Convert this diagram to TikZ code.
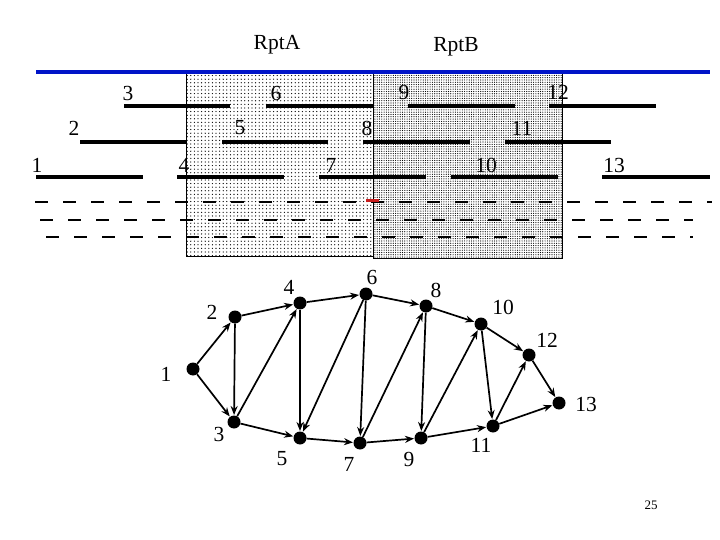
\documentclass[tikz,border=0pt]{standalone}
\usepackage{fontspec}
\setmainfont{Liberation Serif}
\usetikzlibrary{arrows.meta,patterns.meta}
\definecolor{barblue}{RGB}{0,20,200}
\definecolor{markred}{RGB}{200,30,30}
\tikzset{
  lbl/.style={inner sep=0pt,font=\fontsize{21.5}{21.5}\selectfont},
  bar/.style={line width=3.2pt},
  dline/.style={line width=1.2pt,dash pattern=on 13pt off 15pt},
  vtx/.style={circle,fill=black,inner sep=0pt,minimum size=13pt},
  arr/.style={-{Stealth[length=9pt,width=7pt]},line width=1.7pt,shorten >=0.3pt},
}
\begin{document}
\begin{tikzpicture}[x=1pt,y=-1pt]
\useasboundingbox (0,0) rectangle (720,540);
% boxes
\path[pattern={Dots[distance=3.6pt,radius=0.65pt]}] (186,72) rectangle (373,256);
\draw[line width=0.9pt] (186,72) rectangle (373,256);
\fill[white] (373,72) rectangle (562,258);
\path[pattern={Dots[distance=2.3pt,radius=0.6pt]}] (373,72) rectangle (562,258);
\draw[line width=0.9pt] (373,72) rectangle (562,258);
% blue line
\draw[barblue,line width=4pt] (36,72) -- (710,72);
\node[lbl] (ra) at (277,45) {RptA};
\node[lbl] (rb) at (456,47) {RptB};
% bars row 1
\draw[bar] (124,106) -- (230,106);
\draw[bar] (266,106) -- (373,106);
\draw[bar] (408,106) -- (515,106);
\draw[bar] (549,106) -- (656,106);
% row 2
\draw[bar] (80,142) -- (186,142);
\draw[bar] (222,142) -- (328,142);
\draw[bar] (363,142) -- (470,142);
\draw[bar] (505,142) -- (611,142);
% row 3
\draw[bar] (36,177) -- (143,177);
\draw[bar] (177,177) -- (284,177);
\draw[bar] (319,177) -- (426,177);
\draw[bar] (451,177) -- (558,177);
\draw[bar] (602,177) -- (710,177);
% bar labels
\node[lbl] (t3) at (128,93) {3};
\node[lbl] (t6) at (276,93) {6};
\node[lbl] (t9) at (404,92) {9};
\node[lbl] (t12) at (558,92) {12};
\node[lbl] (t2) at (74,128) {2};
\node[lbl] (t5) at (240,128) {5};
\node[lbl] (t8) at (367,128) {8};
\node[lbl] (t11) at (522,128) {11};
\node[lbl] (t1) at (37,165) {1};
\node[lbl] (t4) at (184,165) {4};
\node[lbl] (t7) at (331,165) {7};
\node[lbl] (t10) at (486,165) {10};
\node[lbl] (t13) at (614,165) {13};
% dashed lines
\draw[dline] (35,202) -- (712,202);
\draw[dline] (40,220) -- (693,220);
\draw[dline] (46,237) -- (693,237);
\draw[markred,line width=3pt] (366,201) -- (379,201);
% graph
\node[vtx] (n1) at (193,369) {};
\node[vtx] (n2) at (235,317) {};
\node[vtx] (n3) at (234,422) {};
\node[vtx] (n4) at (300,303) {};
\node[vtx] (n5) at (300,438) {};
\node[vtx] (n6) at (366,294) {};
\node[vtx] (n7) at (360,443) {};
\node[vtx] (n8) at (426,306) {};
\node[vtx] (n9) at (421,438) {};
\node[vtx] (n10) at (481,324) {};
\node[vtx] (n11) at (493,426) {};
\node[vtx] (n12) at (529,355) {};
\node[vtx] (n13) at (559,403) {};
\foreach \a/\b in {1/2,1/3,2/3,2/4,3/4,3/5,4/5,4/6,6/5,6/7,5/7,7/8,6/8,8/9,7/9,9/10,8/10,10/11,9/11,11/12,10/12,12/13,11/13}
  \draw[arr] (n\a) -- (n\b);
\node[lbl] (g1) at (166,374) {1};
\node[lbl] (g2) at (212,312) {2};
\node[lbl] (g3) at (219,434) {3};
\node[lbl] (g4) at (289,287) {4};
\node[lbl] (g5) at (282,459) {5};
\node[lbl] (g6) at (372,277) {6};
\node[lbl] (g7) at (349,464) {7};
\node[lbl] (g8) at (436,290) {8};
\node[lbl] (g9) at (409,459) {9};
\node[lbl] (g10) at (503,307) {10};
\node[lbl] (g11) at (481,445) {11};
\node[lbl] (g12) at (547,340) {12};
\node[lbl] (g13) at (586,404) {13};
\node[inner sep=0pt,font=\fontsize{13}{13}\selectfont] (pg) at (651,505) {25};
\end{tikzpicture}
\end{document}
